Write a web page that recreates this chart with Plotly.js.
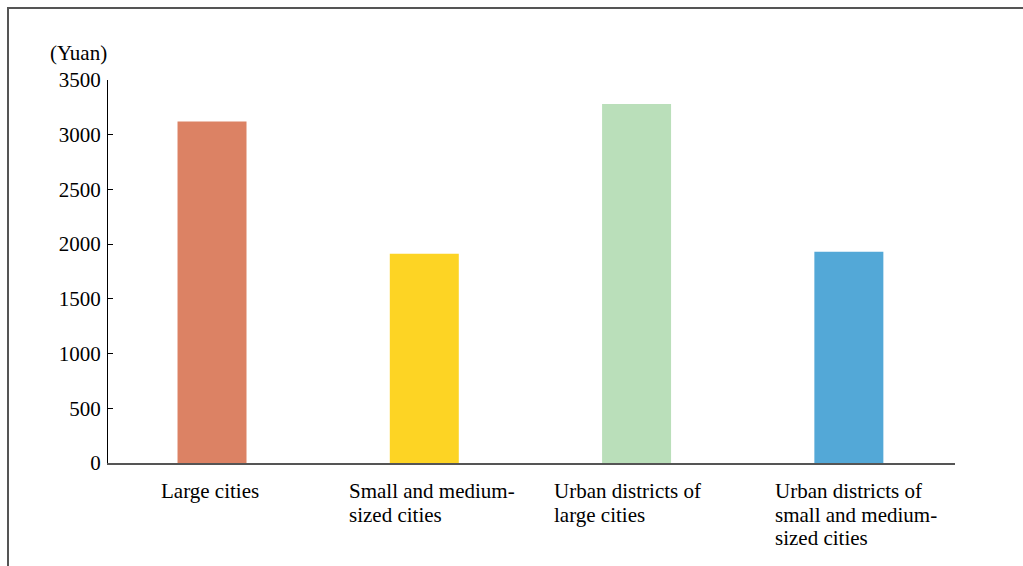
<!DOCTYPE html>
<html>
<head>
<meta charset="utf-8">
<script src="https://cdn.plot.ly/plotly-3.0.1.min.js"></script>
<style>
  html, body { margin: 0; padding: 0; background: #ffffff; }
  #wrap { position: relative; width: 1023px; height: 566px; overflow: hidden; }
  #chart { position: absolute; left: 0; top: 0; width: 1023px; height: 566px; }
  #frame { position: absolute; left: 7px; top: 7px; right: -4px; bottom: -4px;
           border-top: 2px solid #555555; border-left: 2px solid #555555; pointer-events: none; }
</style>
</head>
<body>
<div id="wrap">
  <div id="chart"></div>
  <div id="frame"></div>
</div>
<script>
// Average spending per person (Yuan) by city group
const categories = [
  "Large cities",
  "Small and medium-<br>sized cities",
  "Urban districts of<br>large cities",
  "Urban districts of<br>small and medium-<br>sized cities"
];
const values = [3120, 1912, 3280, 1930];
const barColors = ["#DC8264", "#FDD424", "#BADFBA", "#53A8D7"];
const unitLabel = "(Yuan)";

// horizontal offset (px) of each left-aligned label block from its bar centre
const labelShift = [-53, -77, -85, -76];
const serif = "'Liberation Serif', 'Times New Roman', Times, serif";
const fontSize = 21;
const lineStep = 23.5;

const annotations = [{
  text: unitLabel, xref: "paper", yref: "paper", x: 0, y: 1,
  xanchor: "right", yanchor: "middle", xshift: 1, yshift: 27,
  showarrow: false, font: { family: serif, size: fontSize, color: "#000" }
}];

categories.forEach((cat, i) => {
  cat.split("<br>").forEach((line, j) => {
    annotations.push({
      text: line, xref: "x", yref: "y", x: cat, y: 0,
      xanchor: "left", yanchor: "top", align: "left",
      xshift: labelShift[i], yshift: -14 - j * lineStep,
      showarrow: false, font: { family: serif, size: fontSize, color: "#000" }
    });
  });
});

const trace = {
  type: "bar",
  x: categories,
  y: values,
  width: 0.325,
  marker: { color: barColors, line: { width: 0 } },
  hoverinfo: "x+y"
};

const layout = {
  width: 1023, height: 566,
  margin: { l: 108, r: 68, t: 80, b: 103 },
  paper_bgcolor: "#ffffff", plot_bgcolor: "#ffffff",
  showlegend: false,
  font: { family: serif, size: fontSize, color: "#000" },
  xaxis: {
    type: "category", range: [-0.49, 3.5],
    showticklabels: false, ticks: "", showgrid: false, zeroline: false,
    showline: true, linecolor: "#555555", linewidth: 2
  },
  yaxis: {
    range: [0, 3500], dtick: 500, tick0: 0,
    ticks: "inside", ticklen: 5, tickwidth: 1, tickcolor: "#000",
    showline: true, linecolor: "#000", linewidth: 1,
    showgrid: false, zeroline: false, ticklabelstandoff: 2,
    tickfont: { family: serif, size: fontSize, color: "#000" }
  },
  annotations: annotations
};

Plotly.newPlot("chart", [trace], layout, { staticPlot: true, displayModeBar: false });
</script>
</body>
</html>
